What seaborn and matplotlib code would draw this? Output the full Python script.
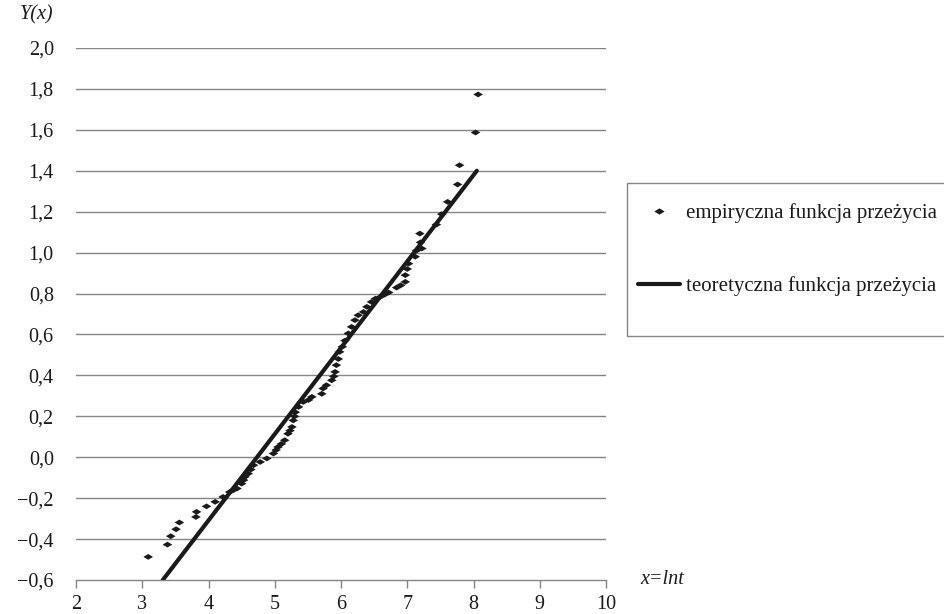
import matplotlib
matplotlib.use("Agg")
import matplotlib.pyplot as plt
import seaborn as sns
import pandas as pd
from matplotlib.lines import Line2D
from matplotlib.patches import Rectangle

# Empirical survival function points (x = ln t, Y(x))
emp_x = [3.09, 3.38, 3.43, 3.51, 3.56, 3.81, 3.82, 3.97, 4.10, 4.22,
         4.32, 4.38, 4.43, 4.50, 4.53, 4.55, 4.60, 4.64, 4.68, 4.78,
         4.88, 4.98, 5.02, 5.05, 5.10, 5.15, 5.20, 5.23, 5.26, 5.28,
         5.30, 5.31, 5.36, 5.43, 5.51, 5.56, 5.71, 5.73, 5.78, 5.86,
         5.89, 5.91, 5.93, 5.96, 5.98, 6.02, 6.06, 6.11, 6.16, 6.21,
         6.26, 6.34, 6.39, 6.46, 6.52, 6.59, 6.66, 6.72, 6.84, 6.90,
         6.97, 6.97, 7.00, 7.02, 7.12, 7.14, 7.22, 7.20, 7.19, 7.44,
         7.52, 7.61, 7.76, 7.79, 8.03, 8.07]
emp_y = [-0.487, -0.427, -0.386, -0.352, -0.319, -0.292, -0.267, -0.240, -0.218, -0.194,
         -0.170, -0.160, -0.153, -0.129, -0.112, -0.096, -0.080, -0.060, -0.039, -0.023,
         -0.006, 0.018, 0.035, 0.050, 0.065, 0.083, 0.115, 0.130, 0.148, 0.180,
         0.200, 0.220, 0.246, 0.270, 0.280, 0.295, 0.310, 0.336, 0.352, 0.376,
         0.395, 0.417, 0.450, 0.480, 0.515, 0.540, 0.570, 0.605, 0.637, 0.670,
         0.694, 0.710, 0.735, 0.759, 0.775, 0.783, 0.795, 0.805, 0.829, 0.840,
         0.857, 0.890, 0.920, 0.946, 0.980, 1.010, 1.020, 1.050, 1.093, 1.137,
         1.188, 1.248, 1.333, 1.427, 1.587, 1.773]

# Theoretical survival function (straight line)
theo_x = [3.31, 8.05]
theo_y = [-0.60, 1.40]

y_ticks = [-0.6, -0.4, -0.2, 0.0, 0.2, 0.4, 0.6, 0.8, 1.0, 1.2, 1.4, 1.6, 1.8, 2.0]
x_ticks = [2, 3, 4, 5, 6, 7, 8, 9, 10]

label_emp = "empiryczna funkcja przeżycia"
label_theo = "teoretyczna funkcja przeżycia"

FS = 14.5
LEG_FS = 15
INK = "#1a1a1a"
GRID = "#858585"

sns.set_theme(style="white")
plt.rcParams["font.family"] = ["Liberation Serif", "DejaVu Serif"]

W, H = 944, 614
fig = plt.figure(figsize=(W / 100, H / 100), dpi=100)
ax = fig.add_axes([76 / W, 1 - 580 / H, 530 / W, 532 / H])

diamond = [(-1, 0), (0, 0.6), (1, 0), (0, -0.6), (-1, 0)]

emp = pd.DataFrame({"x": emp_x, "y": emp_y})
theo = pd.DataFrame({"x": theo_x, "y": theo_y})

sns.lineplot(data=theo, x="x", y="y", ax=ax, color=INK, linewidth=3.0,
             zorder=3, legend=False)
sns.scatterplot(data=emp, x="x", y="y", ax=ax, marker=diamond, s=48,
                color=INK, edgecolor="none", linewidth=0, zorder=4,
                legend=False)

ax.set_xlim(2, 10)
ax.set_ylim(-0.6, 2.0)
ax.set_yticks(y_ticks)
ax.set_yticklabels([f"{v:.1f}".replace(".", ",").replace("-", "\u2212") for v in y_ticks])
ax.set_xticks(x_ticks)
ax.set_xticklabels([str(v) for v in x_ticks])

ax.grid(False)
for v in y_ticks[1:]:
    ax.axhline(v, color=GRID, linewidth=1.0, zorder=1)

for side in ["top", "right", "left"]:
    ax.spines[side].set_visible(False)
ax.spines["bottom"].set_color(GRID)
ax.spines["bottom"].set_linewidth(1.0)

ax.tick_params(axis="x", direction="out", length=6, width=1.0, color=GRID,
               labelsize=FS, pad=5, labelcolor=INK, bottom=True)
ax.tick_params(axis="y", length=0, labelsize=FS, pad=16, labelcolor=INK)

ax.set_xlabel("")
ax.set_ylabel("")

fig.text(20 / W, 1 - 15 / H, "Y(x)", style="italic", fontsize=FS,
         va="center", ha="left", color=INK)
fig.text(640 / W, 1 - 580 / H, "x=lnt", style="italic", fontsize=FS,
         va="center", ha="left", color=INK)

# Legend frame (runs past the right edge of the figure)
fig.patches.append(Rectangle((627 / W, 1 - 336 / H), 340 / W, 153 / H,
                             transform=fig.transFigure, fill=False,
                             edgecolor=GRID, linewidth=1.0))

handles = [
    Line2D([], [], linestyle="none", marker=diamond, markersize=7.5,
           color=INK, markeredgewidth=0),
    Line2D([], [], color=INK, linewidth=3.0),
]
leg = fig.legend(handles, [label_emp, label_theo], loc="upper left",
                 bbox_to_anchor=(638 / W, 1 - 203 / H),
                 bbox_transform=fig.transFigure, frameon=False,
                 fontsize=LEG_FS, borderpad=0, borderaxespad=0, labelspacing=2.55,
                 handlelength=2.0, handletextpad=0.3)
for t in leg.get_texts():
    t.set_color(INK)

fig.savefig("out.png", dpi=100)
